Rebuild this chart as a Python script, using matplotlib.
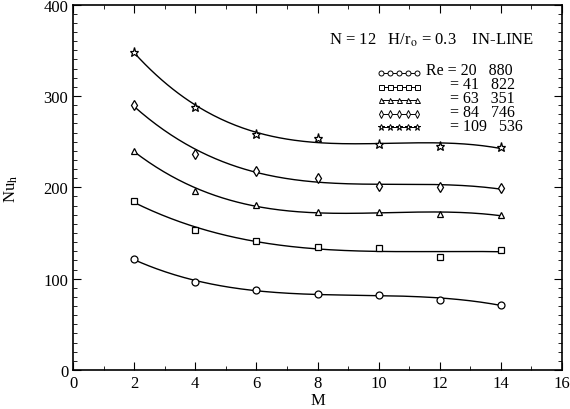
import numpy as np
import matplotlib
matplotlib.use("Agg")
import matplotlib.pyplot as plt
from matplotlib.ticker import MultipleLocator

plt.rcParams['font.family'] = ['Liberation Serif', 'DejaVu Serif']
plt.rcParams['mathtext.fontset'] = 'stix'

M = [2, 4, 6, 8, 10, 12, 14]
nu_re20880 = [121.6, 96, 87.6, 83.6, 82.1, 77, 71.5]
nu_re41822 = [185.1, 153, 141, 134.4, 133.6, 123.4, 131.8]
nu_re63351 = [240.2, 196.5, 181, 172.7, 172.7, 170.9, 169.8]
nu_re84746 = [290.6, 236.6, 218, 210.3, 201.2, 200.8, 199.3]
nu_re109536 = [348.6, 288, 258.5, 254.1, 247.2, 245.7, 243.9]

series = [nu_re20880, nu_re41822, nu_re63351, nu_re84746, nu_re109536]
markers = ['o', 's', '^', 'd', '*']
legend_labels = ['Re = 20   880', '      = 41   822', '      = 63   351',
                 '      = 84   746', '      = 109   536']

fig = plt.figure(figsize=(5.7, 4.1), dpi=100)
ax = fig.add_axes([73/570, 1-371/410, 489/570, (371-5.7)/410])

xs = np.linspace(2, 14, 200)
for vals, mk in zip(series, markers):
    coef = np.polyfit(M, vals, 3)
    ax.plot(xs, np.polyval(coef, xs), color='black', lw=1.0)
    ms = 6.5 if mk == '*' else 5
    ax.plot(M, vals, linestyle='none', marker=mk, ms=ms, mfc='white',
            mec='black', mew=0.9)

ax.set_xlim(0, 16)
ax.set_ylim(0, 400)
ax.xaxis.set_major_locator(MultipleLocator(2))
ax.xaxis.set_minor_locator(MultipleLocator(1))
ax.yaxis.set_major_locator(MultipleLocator(100))
ax.yaxis.set_minor_locator(MultipleLocator(10))
ax.tick_params(which='both', direction='in', top=True, right=True, labelsize=12)
ax.tick_params(which='major', length=6)
ax.tick_params(which='minor', length=3)
for s in ax.spines.values():
    s.set_linewidth(1.2)

ax.set_xlabel('M', fontsize=12, labelpad=1)
ax.set_ylabel(r'Nu$_{\mathrm{h}}$', fontsize=12)
ax.yaxis.set_label_coords(-0.108, 0.5)

ax.text(0.523, 0.906, r'N = 12   H/r$_{\mathrm{o}}$ = 0.3    IN-LINE',
        transform=ax.transAxes, fontsize=12, va='center', ha='left')

rows_y = [0.819, 0.782, 0.744, 0.706, 0.670]
mx = np.linspace(0.630, 0.704, 5)
for yy, mk in zip(rows_y, markers):
    ax.plot(mx, [yy - 0.006]*5, transform=ax.transAxes, color='black', lw=0.7,
            marker=mk, ms=4.5 if mk == '*' else 3.6, mfc='white', mec='black', mew=0.7,
            clip_on=False)
ax.text(0.722, (rows_y[0] + rows_y[-1]) / 2, '\n'.join(legend_labels),
        transform=ax.transAxes, fontsize=11.5, va='center', ha='left',
        linespacing=0.82, multialignment='left')

fig.savefig('out.png', dpi=100)
